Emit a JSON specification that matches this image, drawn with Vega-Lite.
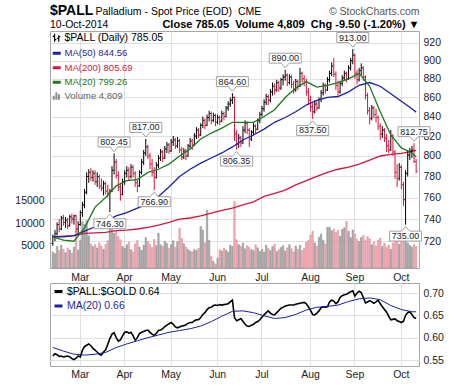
{
"$schema":"https://vega.github.io/schema/vega-lite/v6.json",
"padding":{"left":14,"top":3,"right":5,"bottom":3},
"background":"white",
"bounds":"flush",
"spacing":15,
"resolve":{"scale":{"color":"independent","x":"independent"},"legend":{"color":"independent"}},
"config":{
 "font":"Liberation Sans",
 "view":{"stroke":"#a6a6a6","strokeWidth":1},
 "axis":{"domain":false,"ticks":false,"labelFont":"Liberation Sans","labelFontSize":10.5,"labelColor":"#222222","gridColor":"#e0e0e0","titleFont":"Liberation Sans","labelOverlap":false,"labelBound":false,"labelFlush":false},
 "title":{"font":"Liberation Sans","subtitleFont":"Liberation Sans","subtitleColor":"#000000"}
},
"datasets":{
"px":[
{"d":"2014-02-12","o":718,"h":726,"l":716,"c":724,"v":3600,"r":0.559},
{"d":"2014-02-13","o":724,"h":730,"l":720,"c":727,"v":3200,"r":0.564},
{"d":"2014-02-14","o":727,"h":737,"l":725,"c":735,"v":4800,"r":0.562},
{"d":"2014-02-17","o":735,"h":740,"l":728,"c":731,"v":3900,"r":0.558},
{"d":"2014-02-18","o":731,"h":743,"l":730,"c":741,"v":5100,"r":0.559},
{"d":"2014-02-19","o":741,"h":744,"l":734,"c":737,"v":4200,"r":0.557},
{"d":"2014-02-20","o":737,"h":742,"l":732,"c":739,"v":3400,"r":0.558},
{"d":"2014-02-21","o":739,"h":741,"l":731,"c":734,"v":4500,"r":0.559},
{"d":"2014-02-24","o":734,"h":744,"l":733,"c":742,"v":4000,"r":0.557},
{"d":"2014-02-25","o":742,"h":745,"l":736,"c":740,"v":3300,"r":0.553},
{"d":"2014-02-26","o":740,"h":744,"l":735,"c":743,"v":4700,"r":0.551},
{"d":"2014-02-27","o":743,"h":744,"l":728,"c":731,"v":8200,"r":0.554},
{"d":"2014-02-28","o":731,"h":738,"l":726,"c":735,"v":4000,"r":0.559},
{"d":"2014-03-03","o":735,"h":748,"l":734,"c":746,"v":6200,"r":0.557},
{"d":"2014-03-04","o":746,"h":756,"l":742,"c":753,"v":10400,"r":0.572},
{"d":"2014-03-05","o":753,"h":768,"l":750,"c":765,"v":9800,"r":0.580},
{"d":"2014-03-06","o":765,"h":784,"l":763,"c":780,"v":10600,"r":0.583},
{"d":"2014-03-07","o":780,"h":787,"l":774,"c":784,"v":7200,"r":0.586},
{"d":"2014-03-10","o":784,"h":788,"l":776,"c":779,"v":5400,"r":0.582},
{"d":"2014-03-11","o":779,"h":786,"l":775,"c":783,"v":4800,"r":0.576},
{"d":"2014-03-12","o":783,"h":786,"l":772,"c":775,"v":5200,"r":0.572},
{"d":"2014-03-13","o":775,"h":784,"l":770,"c":780,"v":4500,"r":0.568},
{"d":"2014-03-14","o":780,"h":782,"l":768,"c":771,"v":5600,"r":0.563},
{"d":"2014-03-17","o":771,"h":778,"l":766,"c":769,"v":4900,"r":0.561},
{"d":"2014-03-18","o":769,"h":776,"l":762,"c":773,"v":4200,"r":0.568},
{"d":"2014-03-19","o":773,"h":775,"l":763,"c":766,"v":5300,"r":0.573},
{"d":"2014-03-20","o":766,"h":772,"l":760,"c":764,"v":6100,"r":0.585},
{"d":"2014-03-21","o":764,"h":768,"l":746.3,"c":766,"v":10500,"r":0.598},
{"d":"2014-03-24","o":766,"h":790,"l":765,"c":786,"v":9000,"r":0.608},
{"d":"2014-03-25","o":786,"h":802.45,"l":782,"c":794,"v":7800,"r":0.611},
{"d":"2014-03-26","o":794,"h":797,"l":778,"c":781,"v":8200,"r":0.600},
{"d":"2014-03-27","o":781,"h":785,"l":766,"c":770,"v":7000,"r":0.592},
{"d":"2014-03-28","o":770,"h":774,"l":757,"c":763,"v":6300,"r":0.595},
{"d":"2014-03-31","o":763,"h":778,"l":762,"c":775,"v":4800,"r":0.604},
{"d":"2014-04-01","o":775,"h":786,"l":772,"c":783,"v":4400,"r":0.612},
{"d":"2014-04-02","o":783,"h":790,"l":779,"c":786,"v":5200,"r":0.613},
{"d":"2014-04-03","o":786,"h":789,"l":776,"c":780,"v":5800,"r":0.610},
{"d":"2014-04-04","o":780,"h":792,"l":778,"c":789,"v":4100,"r":0.612},
{"d":"2014-04-07","o":789,"h":791,"l":779,"c":783,"v":3600,"r":0.604},
{"d":"2014-04-08","o":783,"h":785,"l":770,"c":774,"v":5400,"r":0.594},
{"d":"2014-04-09","o":774,"h":778,"l":765,"c":771,"v":6200,"r":0.600},
{"d":"2014-04-10","o":771,"h":786,"l":770,"c":784,"v":4700,"r":0.609},
{"d":"2014-04-11","o":784,"h":797,"l":782,"c":794,"v":3900,"r":0.612},
{"d":"2014-04-14","o":794,"h":806,"l":791,"c":803,"v":5100,"r":0.614},
{"d":"2014-04-15","o":803,"h":817,"l":800,"c":809,"v":6800,"r":0.616},
{"d":"2014-04-16","o":809,"h":811,"l":797,"c":800,"v":5900,"r":0.617},
{"d":"2014-04-17","o":800,"h":803,"l":787,"c":792,"v":5300,"r":0.612},
{"d":"2014-04-18","o":792,"h":797,"l":780,"c":784,"v":4600,"r":0.608},
{"d":"2014-04-21","o":784,"h":789,"l":766.9,"c":779,"v":6400,"r":0.605},
{"d":"2014-04-22","o":779,"h":794,"l":778,"c":791,"v":5000,"r":0.610},
{"d":"2014-04-23","o":791,"h":801,"l":788,"c":798,"v":7800,"r":0.616},
{"d":"2014-04-24","o":798,"h":807,"l":795,"c":804,"v":5200,"r":0.617},
{"d":"2014-04-25","o":804,"h":806,"l":794,"c":798,"v":4800,"r":0.620},
{"d":"2014-04-28","o":798,"h":810,"l":797,"c":807,"v":6000,"r":0.625},
{"d":"2014-04-29","o":807,"h":814,"l":803,"c":811,"v":5500,"r":0.628},
{"d":"2014-04-30","o":811,"h":813,"l":802,"c":805,"v":4400,"r":0.631},
{"d":"2014-05-01","o":805,"h":817,"l":804,"c":814,"v":5200,"r":0.634},
{"d":"2014-05-02","o":814,"h":820,"l":810,"c":816,"v":6100,"r":0.630},
{"d":"2014-05-05","o":816,"h":818,"l":807,"c":810,"v":4600,"r":0.624},
{"d":"2014-05-06","o":810,"h":819,"l":808,"c":815,"v":5900,"r":0.622},
{"d":"2014-05-07","o":815,"h":817,"l":803,"c":806,"v":8900,"r":0.624},
{"d":"2014-05-08","o":806,"h":809,"l":796,"c":799,"v":6600,"r":0.626},
{"d":"2014-05-09","o":799,"h":808,"l":797,"c":805,"v":5400,"r":0.627},
{"d":"2014-05-12","o":805,"h":807,"l":796,"c":800,"v":4700,"r":0.629},
{"d":"2014-05-13","o":800,"h":812,"l":799,"c":810,"v":4200,"r":0.632},
{"d":"2014-05-14","o":810,"h":818,"l":807,"c":815,"v":3800,"r":0.634},
{"d":"2014-05-15","o":815,"h":817,"l":806,"c":811,"v":3600,"r":0.634},
{"d":"2014-05-16","o":811,"h":823,"l":810,"c":820,"v":4100,"r":0.638},
{"d":"2014-05-19","o":820,"h":829,"l":817,"c":826,"v":3900,"r":0.640},
{"d":"2014-05-20","o":826,"h":828,"l":818,"c":821,"v":4400,"r":0.640},
{"d":"2014-05-21","o":821,"h":833,"l":820,"c":831,"v":9300,"r":0.645},
{"d":"2014-05-22","o":831,"h":840,"l":828,"c":836,"v":8500,"r":0.652},
{"d":"2014-05-23","o":836,"h":838,"l":827,"c":831,"v":5600,"r":0.656},
{"d":"2014-05-26","o":831,"h":842,"l":830,"c":839,"v":12900,"r":0.663},
{"d":"2014-05-27","o":839,"h":846,"l":835,"c":843,"v":6200,"r":0.667},
{"d":"2014-05-28","o":843,"h":845,"l":832,"c":836,"v":2600,"r":0.668},
{"d":"2014-05-29","o":836,"h":844,"l":834,"c":841,"v":1500,"r":0.672},
{"d":"2014-05-30","o":841,"h":843,"l":830,"c":834,"v":900,"r":0.673},
{"d":"2014-06-02","o":834,"h":842,"l":832,"c":839,"v":2200,"r":0.672},
{"d":"2014-06-03","o":839,"h":841,"l":831,"c":835,"v":4100,"r":0.674},
{"d":"2014-06-04","o":835,"h":846,"l":834,"c":843,"v":3800,"r":0.673},
{"d":"2014-06-05","o":843,"h":845,"l":836,"c":840,"v":4400,"r":0.674},
{"d":"2014-06-06","o":840,"h":851,"l":839,"c":849,"v":4000,"r":0.675},
{"d":"2014-06-09","o":849,"h":856,"l":846,"c":853,"v":3600,"r":0.676},
{"d":"2014-06-10","o":853,"h":860,"l":850,"c":857,"v":5100,"r":0.680},
{"d":"2014-06-11","o":857,"h":864.6,"l":853,"c":860,"v":4800,"r":0.684},
{"d":"2014-06-12","o":860,"h":861,"l":815,"c":822,"v":14900,"r":0.645},
{"d":"2014-06-13","o":822,"h":826,"l":806.35,"c":812,"v":6300,"r":0.638},
{"d":"2014-06-16","o":812,"h":822,"l":808,"c":818,"v":5200,"r":0.640},
{"d":"2014-06-17","o":818,"h":820,"l":809,"c":813,"v":4800,"r":0.643},
{"d":"2014-06-18","o":813,"h":830,"l":812,"c":826,"v":5600,"r":0.637},
{"d":"2014-06-19","o":826,"h":836,"l":823,"c":833,"v":4300,"r":0.630},
{"d":"2014-06-20","o":833,"h":835,"l":822,"c":826,"v":5000,"r":0.626},
{"d":"2014-06-23","o":826,"h":828,"l":809,"c":817,"v":4600,"r":0.625},
{"d":"2014-06-24","o":817,"h":826,"l":815,"c":824,"v":4100,"r":0.628},
{"d":"2014-06-25","o":824,"h":833,"l":821,"c":830,"v":3900,"r":0.630},
{"d":"2014-06-26","o":830,"h":832,"l":823,"c":827,"v":5200,"r":0.634},
{"d":"2014-06-27","o":827,"h":838,"l":826,"c":836,"v":4500,"r":0.636},
{"d":"2014-06-30","o":836,"h":845,"l":833,"c":842,"v":3700,"r":0.640},
{"d":"2014-07-01","o":842,"h":851,"l":840,"c":848,"v":4200,"r":0.646},
{"d":"2014-07-02","o":848,"h":858,"l":845,"c":855,"v":3600,"r":0.651},
{"d":"2014-07-03","o":855,"h":864,"l":852,"c":861,"v":5100,"r":0.656},
{"d":"2014-07-04","o":861,"h":863,"l":852,"c":857,"v":4400,"r":0.660},
{"d":"2014-07-07","o":857,"h":869,"l":855,"c":866,"v":3900,"r":0.655},
{"d":"2014-07-08","o":866,"h":876,"l":862,"c":872,"v":4800,"r":0.652},
{"d":"2014-07-09","o":872,"h":875,"l":863,"c":868,"v":5300,"r":0.651},
{"d":"2014-07-10","o":868,"h":879,"l":866,"c":876,"v":3700,"r":0.656},
{"d":"2014-07-11","o":876,"h":878,"l":866,"c":870,"v":4100,"r":0.661},
{"d":"2014-07-14","o":870,"h":881,"l":868,"c":879,"v":4600,"r":0.666},
{"d":"2014-07-15","o":879,"h":885,"l":873,"c":882,"v":5000,"r":0.668},
{"d":"2014-07-16","o":882,"h":890,"l":878,"c":884,"v":3800,"r":0.671},
{"d":"2014-07-17","o":884,"h":886,"l":872,"c":876,"v":4500,"r":0.672},
{"d":"2014-07-18","o":876,"h":885,"l":874,"c":882,"v":5200,"r":0.673},
{"d":"2014-07-21","o":882,"h":884,"l":870,"c":874,"v":4300,"r":0.673},
{"d":"2014-07-22","o":874,"h":878,"l":864,"c":868,"v":3600,"r":0.673},
{"d":"2014-07-23","o":868,"h":880,"l":866,"c":877,"v":4900,"r":0.675},
{"d":"2014-07-24","o":877,"h":879,"l":868,"c":872,"v":4200,"r":0.676},
{"d":"2014-07-25","o":872,"h":892,"l":871,"c":886,"v":5100,"r":0.677},
{"d":"2014-07-28","o":886,"h":888,"l":876,"c":880,"v":3900,"r":0.678},
{"d":"2014-07-29","o":880,"h":884,"l":872,"c":876,"v":4400,"r":0.679},
{"d":"2014-07-30","o":876,"h":880,"l":862,"c":866,"v":5800,"r":0.676},
{"d":"2014-07-31","o":866,"h":870,"l":852,"c":857,"v":6200,"r":0.669},
{"d":"2014-08-01","o":857,"h":862,"l":845,"c":850,"v":7400,"r":0.661},
{"d":"2014-08-04","o":850,"h":854,"l":837.5,"c":845,"v":8200,"r":0.652},
{"d":"2014-08-05","o":845,"h":857,"l":843,"c":853,"v":5600,"r":0.651},
{"d":"2014-08-06","o":853,"h":856,"l":846,"c":849,"v":4900,"r":0.655},
{"d":"2014-08-07","o":849,"h":860,"l":848,"c":858,"v":6900,"r":0.660},
{"d":"2014-08-08","o":858,"h":868,"l":855,"c":865,"v":7600,"r":0.667},
{"d":"2014-08-11","o":865,"h":876,"l":862,"c":873,"v":6200,"r":0.669},
{"d":"2014-08-12","o":873,"h":875,"l":864,"c":868,"v":5400,"r":0.668},
{"d":"2014-08-13","o":868,"h":882,"l":867,"c":879,"v":9100,"r":0.669},
{"d":"2014-08-14","o":879,"h":889,"l":876,"c":886,"v":9100,"r":0.680},
{"d":"2014-08-15","o":886,"h":898,"l":883,"c":894,"v":8300,"r":0.684},
{"d":"2014-08-18","o":894,"h":903,"l":882,"c":885,"v":8700,"r":0.682},
{"d":"2014-08-19","o":885,"h":888,"l":868,"c":873,"v":7900,"r":0.676},
{"d":"2014-08-20","o":873,"h":878,"l":862,"c":866,"v":8400,"r":0.680},
{"d":"2014-08-21","o":866,"h":878,"l":864,"c":875,"v":7100,"r":0.690},
{"d":"2014-08-22","o":875,"h":884,"l":872,"c":881,"v":8600,"r":0.694},
{"d":"2014-08-25","o":881,"h":889,"l":878,"c":886,"v":9000,"r":0.696},
{"d":"2014-08-26","o":886,"h":888,"l":876,"c":880,"v":10400,"r":0.697},
{"d":"2014-08-27","o":880,"h":895,"l":879,"c":892,"v":8200,"r":0.700},
{"d":"2014-08-28","o":892,"h":903,"l":889,"c":900,"v":6800,"r":0.703},
{"d":"2014-08-29","o":900,"h":913,"l":896,"c":906,"v":8500,"r":0.705},
{"d":"2014-09-01","o":906,"h":908,"l":880,"c":886,"v":7600,"r":0.693},
{"d":"2014-09-02","o":886,"h":890,"l":874,"c":879,"v":6400,"r":0.700},
{"d":"2014-09-03","o":879,"h":892,"l":877,"c":889,"v":5900,"r":0.704},
{"d":"2014-09-04","o":889,"h":897,"l":884,"c":892,"v":6800,"r":0.701},
{"d":"2014-09-05","o":892,"h":894,"l":878,"c":882,"v":7300,"r":0.690},
{"d":"2014-09-08","o":882,"h":884,"l":858,"c":862,"v":6100,"r":0.678},
{"d":"2014-09-09","o":862,"h":865,"l":842,"c":846,"v":7000,"r":0.680},
{"d":"2014-09-10","o":846,"h":850,"l":832,"c":838,"v":6500,"r":0.683},
{"d":"2014-09-11","o":838,"h":852,"l":836,"c":849,"v":5200,"r":0.680},
{"d":"2014-09-12","o":849,"h":851,"l":838,"c":842,"v":5800,"r":0.677},
{"d":"2014-09-15","o":842,"h":848,"l":834,"c":839,"v":4900,"r":0.680},
{"d":"2014-09-16","o":839,"h":841,"l":826,"c":830,"v":6200,"r":0.684},
{"d":"2014-09-17","o":830,"h":833,"l":816,"c":822,"v":6700,"r":0.676},
{"d":"2014-09-18","o":822,"h":830,"l":818,"c":826,"v":4800,"r":0.669},
{"d":"2014-09-19","o":826,"h":828,"l":814,"c":818,"v":5500,"r":0.663},
{"d":"2014-09-22","o":818,"h":822,"l":804,"c":810,"v":4600,"r":0.657},
{"d":"2014-09-23","o":810,"h":816,"l":803,"c":806,"v":5100,"r":0.648},
{"d":"2014-09-24","o":806,"h":826,"l":805,"c":820,"v":4200,"r":0.640},
{"d":"2014-09-25","o":820,"h":822,"l":800,"c":804,"v":5600,"r":0.641},
{"d":"2014-09-26","o":804,"h":806,"l":778,"c":784,"v":6800,"r":0.642},
{"d":"2014-09-29","o":784,"h":792,"l":770,"c":778,"v":6000,"r":0.638},
{"d":"2014-09-30","o":778,"h":793,"l":776,"c":789,"v":5300,"r":0.636},
{"d":"2014-10-01","o":789,"h":791,"l":768,"c":772,"v":6400,"r":0.634},
{"d":"2014-10-02","o":772,"h":775,"l":752,"c":758,"v":5800,"r":0.637},
{"d":"2014-10-03","o":758,"h":786,"l":735,"c":783,"v":6700,"r":0.650},
{"d":"2014-10-06","o":783,"h":806,"l":780,"c":801,"v":5600,"r":0.656},
{"d":"2014-10-07","o":801,"h":808,"l":796,"c":805,"v":5100,"r":0.658},
{"d":"2014-10-08","o":805,"h":810,"l":798,"c":806,"v":4700,"r":0.652},
{"d":"2014-10-09","o":806,"h":812.75,"l":793,"c":794.55,"v":5300,"r":0.645},
{"d":"2014-10-10","o":794.55,"h":797,"l":783,"c":785.05,"v":4809,"r":0.643}
],
"ma":[
{"d":"2014-02-12","m20":724,"m50":724,"m200":724,"rm":0.578},
{"d":"2014-02-19","m20":721,"m50":724,"m200":724.5,"rm":0.570},
{"d":"2014-02-26","m20":720,"m50":725,"m200":725,"rm":0.563},
{"d":"2014-03-05","m20":732,"m50":729,"m200":727,"rm":0.561},
{"d":"2014-03-12","m20":751,"m50":733,"m200":727.5,"rm":0.563},
{"d":"2014-03-19","m20":760,"m50":738,"m200":728,"rm":0.567},
{"d":"2014-03-26","m20":771,"m50":743,"m200":729.5,"rm":0.578},
{"d":"2014-04-02","m20":776,"m50":746,"m200":730,"rm":0.586},
{"d":"2014-04-09","m20":777,"m50":750,"m200":731,"rm":0.593},
{"d":"2014-04-16","m20":784,"m50":754,"m200":732.5,"rm":0.600},
{"d":"2014-04-23","m20":787,"m50":761,"m200":734.5,"rm":0.606},
{"d":"2014-04-30","m20":792,"m50":770,"m200":737,"rm":0.612},
{"d":"2014-05-07","m20":800,"m50":780,"m200":740,"rm":0.616},
{"d":"2014-05-14","m20":807,"m50":787,"m200":741,"rm":0.620},
{"d":"2014-05-21","m20":817,"m50":793,"m200":743,"rm":0.626},
{"d":"2014-05-28","m20":823,"m50":798,"m200":745.5,"rm":0.636},
{"d":"2014-06-04","m20":828,"m50":803,"m200":748,"rm":0.648},
{"d":"2014-06-11","m20":834,"m50":809,"m200":750,"rm":0.659},
{"d":"2014-06-18","m20":834,"m50":816,"m200":753,"rm":0.660},
{"d":"2014-06-25","m20":834,"m50":821,"m200":756,"rm":0.656},
{"d":"2014-07-02","m20":840,"m50":827,"m200":761,"rm":0.649},
{"d":"2014-07-09","m20":847,"m50":834,"m200":764,"rm":0.643},
{"d":"2014-07-16","m20":860,"m50":839,"m200":767,"rm":0.645},
{"d":"2014-07-23","m20":870,"m50":845,"m200":772,"rm":0.652},
{"d":"2014-07-30","m20":877,"m50":852,"m200":776,"rm":0.662},
{"d":"2014-08-06","m20":871,"m50":857,"m200":780,"rm":0.668},
{"d":"2014-08-13","m20":873,"m50":860,"m200":784,"rm":0.670},
{"d":"2014-08-20","m20":876,"m50":861,"m200":787,"rm":0.673},
{"d":"2014-08-27","m20":880,"m50":866,"m200":789,"rm":0.681},
{"d":"2014-09-03","m20":886,"m50":873,"m200":792,"rm":0.687},
{"d":"2014-09-10","m20":872,"m50":876,"m200":796,"rm":0.689},
{"d":"2014-09-17","m20":845,"m50":872,"m200":800,"rm":0.685},
{"d":"2014-09-24","m20":821,"m50":864,"m200":801.5,"rm":0.672},
{"d":"2014-10-01","m20":808,"m50":856,"m200":802.5,"rm":0.663},
{"d":"2014-10-08","m20":803,"m50":848,"m200":804.5,"rm":0.658},
{"d":"2014-10-10","m20":799.26,"m50":844.56,"m200":805.69,"rm":0.658}
],
"hi":[
{"d":"2014-03-25","p":802.45},
{"d":"2014-04-15","p":817},
{"d":"2014-06-11","p":864.6},
{"d":"2014-07-16","p":890},
{"d":"2014-08-29","p":913},
{"d":"2014-10-09","p":812.75}
],
"lo":[
{"d":"2014-03-21","p":746.3},
{"d":"2014-04-21","p":766.9},
{"d":"2014-06-13","p":806.35},
{"d":"2014-08-04","p":837.5},
{"d":"2014-10-03","p":735}
]
},
"vconcat":[
{
 "width":369,"height":237,
 "title":{"text":"$PALL","subtitle":"10-Oct-2014","anchor":"start","frame":"group","fontSize":14,"fontWeight":"bold","color":"#000000","subtitleFontSize":10.5,"subtitlePadding":2,"offset":-24},
 "data":{"name":"px"},
 "transform":[{"window":[{"op":"lag","field":"c","as":"pc"}],"sort":[{"field":"d","order":"ascending"}]}],
 "encoding":{"x":{"field":"d","type":"ordinal","scale":{"type":"band","paddingInner":0.3,"paddingOuter":1},
   "axis":{"values":["2014-03-03","2014-04-01","2014-05-01","2014-06-02","2014-07-01","2014-08-01","2014-09-01","2014-10-01"],
     "labelExpr":"['','Jan','Feb','Mar','Apr','May','Jun','Jul','Aug','Sep','Oct','Nov','Dec'][toNumber(slice(datum.value,5,7))]",
     "labelAngle":0,"labelPadding":4,"grid":true,
     "title":"Close 785.05\u00a0\u00a0Volume 4,809\u00a0\u00a0Chg -9.50 (-1.20%) \u25bc","titleX":369,"titleY":-241,"titleAlign":"right","titleBaseline":"alphabetic","titleAngle":0,"titleFontSize":11,"titleFontWeight":"bold","titleColor":"#000000"}}},
 "layer":[
  {"mark":{"type":"bar","strokeWidth":0.5},
   "encoding":{
    "y":{"field":"v","type":"quantitative","scale":{"domain":[0,53000],"nice":false,"zero":true},
      "axis":{"orient":"left","values":[5000,10000,15000],"format":"d","grid":false,"labelPadding":6,
        "title":"Palladium - Spot Price (EOD)\u00a0\u00a0CME","titleX":45,"titleY":-17,"titleAngle":0,"titleAlign":"left","titleBaseline":"alphabetic","titleFontSize":10.5,"titleFontWeight":"normal","titleColor":"#000000"}},
    "fill":{"condition":{"test":"datum.pc == null || datum.c >= datum.pc","value":"#acacac"},"value":"#f2b0b6"},
    "stroke":{"condition":{"test":"datum.pc == null || datum.c >= datum.pc","value":"#8a8a8a"},"value":"#dd8090"}}},
  {"layer":[
    {"mark":{"type":"line","strokeWidth":1.3},"data":{"name":"ma"},
     "encoding":{"y":{"field":"m200","type":"quantitative","scale":{"type":"log","domain":[696.6,933.6],"nice":false,"zero":false},
        "axis":{"orient":"right","values":[720,740,760,780,800,820,840,860,880,900,920],"format":"d","grid":true,"labelPadding":4,
          "title":"\u00a9 StockCharts.com","titleX":0,"titleY":-17,"titleAngle":0,"titleAlign":"right","titleBaseline":"alphabetic","titleFontSize":10.5,"titleFontWeight":"normal","titleColor":"#555555"}},
       "color":{"datum":"MA(200) 805.69","type":"nominal",
         "scale":{"domain":["$PALL (Daily) 785.05","MA(50) 844.56","MA(200) 805.69","MA(20) 799.26","Volume 4,809"],"range":["#000000","#1f1f9e","#d6163f","#1c7a1c","#8c8c8c"]},
         "legend":{"orient":"top-left","title":null,"offset":2,"padding":0,"rowPadding":1.5,"symbolType":"stroke","symbolSize":64,"symbolStrokeWidth":3,"labelFont":"Liberation Sans","labelFontSize":9.5,"labelOffset":3,"labelLimit":300,
           "encode":{
             "labels":{"update":{
               "fill":{"signal":"datum.value==='MA(50) 844.56'?'#1f1f9e':datum.value==='MA(200) 805.69'?'#d6163f':datum.value==='MA(20) 799.26'?'#1c7a1c':datum.value==='Volume 4,809'?'#666666':'#000000'"},
               "fontSize":{"signal":"datum.value==='$PALL (Daily) 785.05'?10.5:9.5"}}},
             "symbols":{"update":{
               "shape":{"signal":"datum.value==='$PALL (Daily) 785.05'?'M-0.55,-1L-0.55,1M-1,-0.35L-0.55,-0.35M-0.55,0.45L-0.1,0.45M0.5,-0.6L0.5,1M0.05,0.15L0.5,0.15M0.5,-0.25L0.95,-0.25':datum.value==='Volume 4,809'?'M-1,1L-1,0L-0.5,0L-0.5,1ZM-0.35,1L-0.35,-0.9L0.15,-0.9L0.15,1ZM0.3,1L0.3,-0.4L0.8,-0.4L0.8,1Z':'stroke'"},
               "fill":{"signal":"datum.value==='Volume 4,809'?'#8c8c8c':'transparent'"},
               "strokeWidth":{"signal":"datum.value==='Volume 4,809'?0:datum.value==='$PALL (Daily) 785.05'?1.2:3"}}}}}}}},
    {"mark":{"type":"rule","strokeWidth":1},
     "encoding":{"y":{"field":"l","type":"quantitative","scale":{"type":"log","domain":[696.6,933.6],"nice":false,"zero":false}},"y2":{"field":"h"},
       "color":{"condition":{"test":"datum.pc == null || datum.c >= datum.pc","value":"#000000"},"value":"#dc143c"}}},
    {"mark":{"type":"tick","thickness":1,"size":1.6,"xOffset":-0.9},
     "encoding":{"y":{"field":"o","type":"quantitative","scale":{"type":"log","domain":[696.6,933.6],"nice":false,"zero":false}},
       "color":{"condition":{"test":"datum.pc == null || datum.c >= datum.pc","value":"#000000"},"value":"#dc143c"}}},
    {"mark":{"type":"tick","thickness":1,"size":1.6,"xOffset":0.9},
     "encoding":{"y":{"field":"c","type":"quantitative","scale":{"type":"log","domain":[696.6,933.6],"nice":false,"zero":false}},
       "color":{"condition":{"test":"datum.pc == null || datum.c >= datum.pc","value":"#000000"},"value":"#dc143c"}}},
    {"mark":{"type":"line","strokeWidth":1.3},"data":{"name":"ma"},
     "encoding":{"y":{"field":"m50","type":"quantitative","scale":{"type":"log","domain":[696.6,933.6],"nice":false,"zero":false}},
       "color":{"datum":"MA(50) 844.56","type":"nominal"}}},
    {"mark":{"type":"line","strokeWidth":1.3},"data":{"name":"ma"},
     "encoding":{"y":{"field":"m20","type":"quantitative","scale":{"type":"log","domain":[696.6,933.6],"nice":false,"zero":false}},
       "color":{"datum":"MA(20) 799.26","type":"nominal"}}},
    {"data":{"name":"hi"},
     "mark":{"type":"point","shape":"M-1,-1.03L1,-1.03L1,-0.41L0.25,-0.41L0,-0.12L-0.25,-0.41L-1,-0.41Z","size":1024,"filled":true,"fill":"#ffffff","stroke":"#a0a0a0","strokeWidth":1,"opacity":1},
     "encoding":{"y":{"field":"p","type":"quantitative","scale":{"type":"log","domain":[696.6,933.6],"nice":false,"zero":false}}}},
    {"data":{"name":"hi"},
     "mark":{"type":"text","dy":-11.5,"fontSize":9,"font":"Liberation Sans","color":"#222222","baseline":"middle"},
     "encoding":{"y":{"field":"p","type":"quantitative","scale":{"type":"log","domain":[696.6,933.6],"nice":false,"zero":false}},"text":{"field":"p","type":"quantitative","format":".2f"}}},
    {"data":{"name":"lo"},
     "mark":{"type":"point","shape":"M-1,1.03L1,1.03L1,0.41L0.25,0.41L0,0.12L-0.25,0.41L-1,0.41Z","size":1024,"filled":true,"fill":"#ffffff","stroke":"#a0a0a0","strokeWidth":1,"opacity":1},
     "encoding":{"y":{"field":"p","type":"quantitative","scale":{"type":"log","domain":[696.6,933.6],"nice":false,"zero":false}}}},
    {"data":{"name":"lo"},
     "mark":{"type":"text","dy":11.5,"fontSize":9,"font":"Liberation Sans","color":"#222222","baseline":"middle"},
     "encoding":{"y":{"field":"p","type":"quantitative","scale":{"type":"log","domain":[696.6,933.6],"nice":false,"zero":false}},"text":{"field":"p","type":"quantitative","format":".2f"}}}
  ]}
 ],
 "resolve":{"scale":{"y":"independent"},"axis":{"y":"independent"}}
},
{
 "width":369,"height":83,
 "data":{"name":"px"},
 "encoding":{"x":{"field":"d","type":"ordinal","scale":{"type":"band","paddingInner":0.3,"paddingOuter":1},
   "axis":{"values":["2014-03-03","2014-04-01","2014-05-01","2014-06-02","2014-07-01","2014-08-01","2014-09-01","2014-10-01"],
     "labelExpr":"['','Jan','Feb','Mar','Apr','May','Jun','Jul','Aug','Sep','Oct','Nov','Dec'][toNumber(slice(datum.value,5,7))]",
     "labelAngle":0,"labelPadding":3,"grid":true,"title":null}}},
 "layer":[
  {"mark":{"type":"line","strokeWidth":1.6},
   "encoding":{"y":{"field":"r","type":"quantitative","scale":{"domain":[0.5366,0.7224],"nice":false,"zero":false},
      "axis":{"orient":"right","tickCount":4,"format":".2f","grid":true,"labelPadding":4,"title":null,"labelOverlap":false}},
     "color":{"datum":"$PALL:$GOLD 0.64","type":"nominal",
       "scale":{"domain":["$PALL:$GOLD 0.64","MA(20) 0.66"],"range":["#000000","#1f1f9e"]},
       "legend":{"orient":"top-left","title":null,"offset":3,"padding":0,"rowPadding":1.5,"symbolType":"stroke","symbolSize":64,"symbolStrokeWidth":3,"labelFont":"Liberation Sans","labelFontSize":10.5,"labelOffset":3,"labelLimit":300,
         "encode":{"labels":{"update":{"fill":{"signal":"datum.value==='MA(20) 0.66'?'#1f1f9e':'#000000'"}}}}}}}},
  {"data":{"name":"ma"},"mark":{"type":"line","strokeWidth":1},
   "encoding":{"y":{"field":"rm","type":"quantitative","scale":{"domain":[0.5366,0.7224],"nice":false,"zero":false}},
     "color":{"datum":"MA(20) 0.66","type":"nominal"}}}
 ]
}
]
}
